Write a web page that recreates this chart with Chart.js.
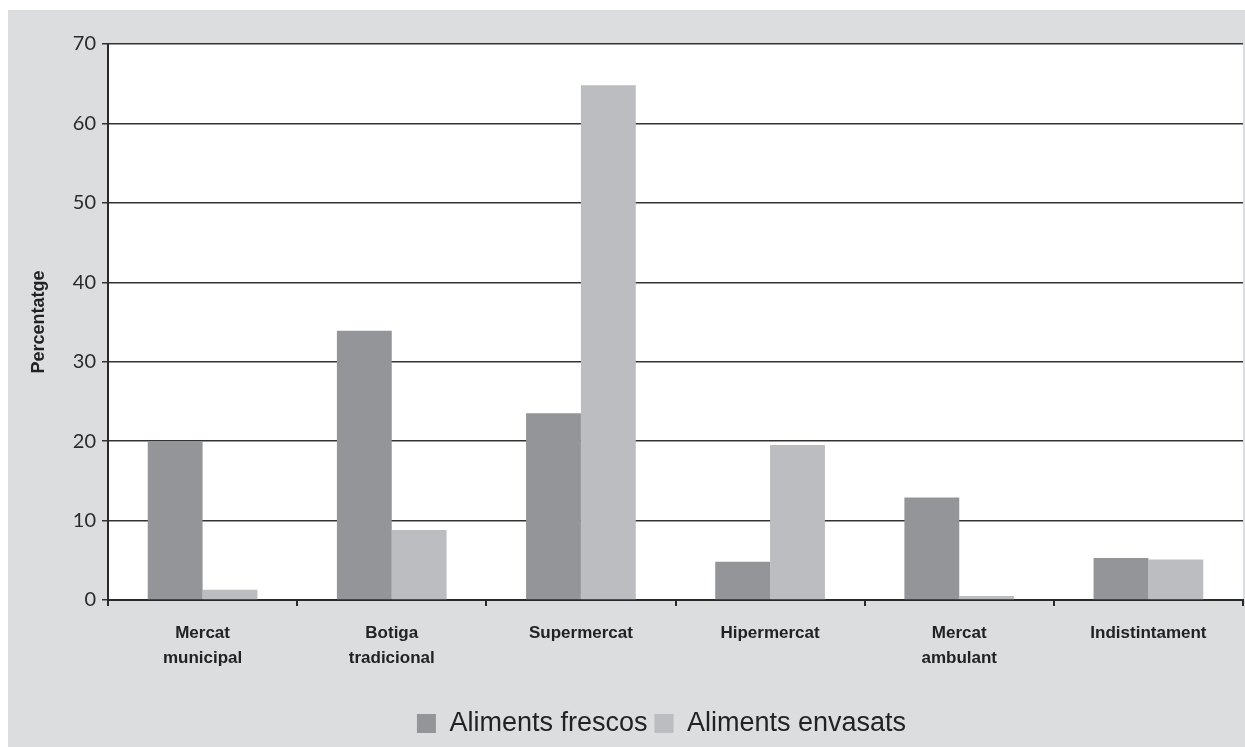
<!DOCTYPE html>
<html lang="ca">
<head>
    <meta charset="UTF-8">
    <title>Percentatge per tipus d'establiment</title>
    <script src="https://cdn.jsdelivr.net/npm/chart.js@4.4.1/dist/chart.umd.min.js"></script>
    <style>
        * { margin: 0; padding: 0; box-sizing: border-box; }
        body { background: #ffffff; width: 1245px; height: 747px; overflow: hidden; position: relative; }
        .panel {
            position: absolute;
            left: 8px;
            top: 10px;
            width: 1237px;
            height: 737px;
            background: #dcdddf;
        }
    </style>
</head>
<body>
    <div class="panel">
        <canvas id="chart" width="1237" height="737"></canvas>
    </div>

    <script>
        // Data
        const categories = [
            ['Mercat', 'municipal'],
            ['Botiga', 'tradicional'],
            'Supermercat',
            'Hipermercat',
            ['Mercat', 'ambulant'],
            'Indistintament'
        ];
        const frescos = [20.0, 33.9, 23.5, 4.8, 12.9, 5.3];
        const envasats = [1.3, 8.8, 64.8, 19.5, 0.5, 5.1];
        const yTicks = [0, 10, 20, 30, 40, 50, 60, 70];

        // white plot area on the gray panel
        const plotBg = {
            id: 'plotBg',
            beforeDraw(chart) {
                const { ctx, chartArea: a } = chart;
                ctx.save();
                ctx.fillStyle = '#ffffff';
                ctx.fillRect(a.left, a.top, a.right - a.left, a.bottom - a.top);
                ctx.restore();
            }
        };

        // legend sits a bit right of the canvas centre in the original
        const legendShift = {
            id: 'legendShift',
            afterLayout(chart) {
                chart.legend.left += 36;
                chart.legend.right += 36;
            }
        };

        new Chart(document.getElementById('chart'), {
            type: 'bar',
            data: {
                labels: categories,
                datasets: [
                    {
                        label: 'Aliments frescos',
                        data: frescos,
                        backgroundColor: '#939598',
                        categoryPercentage: 0.58,
                        barPercentage: 1.0
                    },
                    {
                        label: 'Aliments envasats',
                        data: envasats,
                        backgroundColor: '#bcbdc0',
                        categoryPercentage: 0.58,
                        barPercentage: 1.0
                    }
                ]
            },
            options: {
                responsive: false,
                animation: false,
                layout: { padding: { left: 0, right: 2, top: 34, bottom: 0 } },
                plugins: {
                    tooltip: { enabled: false },
                    legend: {
                        position: 'bottom',
                        labels: {
                            boxWidth: 19,
                            boxHeight: 19,
                            padding: 7,
                            color: '#222222',
                            font: { family: '"Liberation Sans", Arial, sans-serif', size: 27 }
                        }
                    }
                },
                scales: {
                    x: {
                        grid: {
                            offset: true,
                            drawOnChartArea: false,
                            drawTicks: true,
                            tickLength: 6,
                            color: '#2a2a2a',
                            lineWidth: 2
                        },
                        border: { color: '#2a2a2a', width: 2 },
                        ticks: {
                            color: '#222222',
                            padding: 15,
                            maxRotation: 0,
                            font: { family: '"Liberation Sans", Arial, sans-serif', size: 17, weight: 'bold', lineHeight: 1.45 }
                        },
                        afterFit(scale) { scale.height = 103; }
                    },
                    y: {
                        min: 0,
                        max: 70,
                        afterBuildTicks(scale) {
                            scale.ticks = yTicks.map(v => ({ value: v }));
                        },
                        grid: {
                            color: '#333333',
                            lineWidth: 1.5,
                            tickLength: 6
                        },
                        border: { color: '#2a2a2a', width: 2 },
                        ticks: {
                            color: '#2a2a2a',
                            padding: 6,
                            font: { family: 'Lato, "Open Sans", sans-serif', size: 20 }
                        },
                        title: {
                            display: true,
                            text: 'Percentatge',
                            color: '#222222',
                            padding: { top: 20, bottom: 0 },
                            font: { family: '"Liberation Sans", Arial, sans-serif', size: 18, weight: 'bold' }
                        },
                        afterFit(scale) { scale.width = 100; }
                    }
                }
            },
            plugins: [plotBg, legendShift]
        });
    </script>
</body>
</html>
